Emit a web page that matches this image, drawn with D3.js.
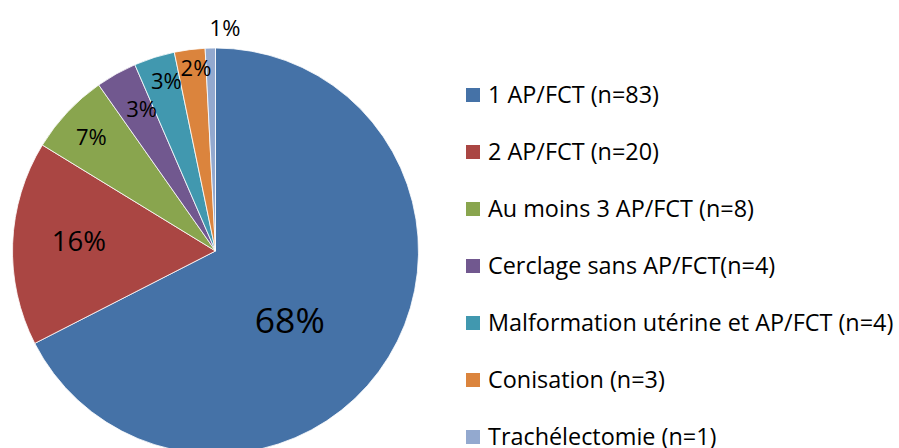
<!DOCTYPE html>
<html>
<head>
<meta charset="utf-8">
<script src="https://cdn.jsdelivr.net/npm/d3@7"></script>
<style>
    body { margin: 0; background: #fff; }
    svg text { font-family: "Open Sans", sans-serif; fill: #000; }
</style>
</head>
<body>
<div id="content"></div>
<script>
// ======= data =======
var categories = ["1 AP/FCT (n=83)", "2 AP/FCT (n=20)", "Au moins 3 AP/FCT (n=8)",
    "Cerclage sans AP/FCT(n=4)", "Malformation utérine et AP/FCT (n=4)",
    "Conisation (n=3)", "Trachélectomie (n=1)"];
var counts = [83, 20, 8, 4, 4, 3, 1];

// ======= formatting =======
var colors = ["#4572A7", "#AA4643", "#89A54E", "#71588F", "#4198AF", "#DB843D", "#93A9CF"];
var width = 899;
var height = 448;
var cx = 215.5, cy = 251, radius = 203;
// best-fit label placement: radius factor and angle nudge (deg) per slice
var labelRadius = [0.5, 0.675, 0.83, 0.79, 0.87, 0.905, 1.1];
var labelNudge = [11.5, 2, -0.6, 1.8, 1.4, 1.2, 3.9];
var labelSize = [35.5, 27.5, 22, 22, 22, 22, 22];

var total = d3.sum(counts);

// ======= percentages (largest remainder so they sum to 100) =======
function roundedShares(values) {
    var raw = values.map(function(v) { return v / total * 100; });
    var out = raw.map(Math.floor);
    var left = 100 - d3.sum(out);
    var order = d3.range(raw.length).sort(function(a, b) {
        return (raw[b] - out[b]) - (raw[a] - out[a]);
    });
    for (var k = 0; k < left; k++) out[order[k]] += 1;
    return out;
}
var shares = roundedShares(counts);

// ======= elements =======
var svgEl = d3.select("#content")
    .append("svg")
        .attr("width", width)
        .attr("height", height);

var pieG = svgEl.append("g")
    .attr("transform", "translate(" + cx + "," + cy + ")");

var pie = d3.pie().sort(null).value(function(d) { return d; });
var arcs = pie(counts);
var arc = d3.arc().innerRadius(0).outerRadius(radius);

// ======= slices =======
pieG.selectAll("path")
    .data(arcs)
    .enter()
    .append("path")
        .attr("d", arc)
        .style("fill", function(d, i) { return colors[i]; })
        .style("stroke", "#fff")
        .style("stroke-width", 0.8);

// ======= labels =======
pieG.selectAll("text.lbl")
    .data(arcs)
    .enter()
    .append("text")
        .attr("class", "lbl")
        .attr("transform", function(d, i) {
            var a = (d.startAngle + d.endAngle) / 2 + labelNudge[i] * Math.PI / 180;
            var r = radius * labelRadius[i];
            return "translate(" + (r * Math.sin(a)) + "," + (-r * Math.cos(a)) + ")";
        })
        .attr("text-anchor", "middle")
        .attr("dy", "0.36em")
        .style("font-size", function(d, i) { return labelSize[i] + "px"; })
        .text(function(d, i) { return shares[i] + "%"; });

// ======= legend =======
var legendY = d3.scalePoint()
    .domain(categories)
    .range([95, 437]);

var legend = svgEl.append("g")
    .attr("class", "legend")
    .selectAll("g")
    .data(categories)
    .enter()
    .append("g")
        .attr("transform", function(d) { return "translate(466," + legendY(d) + ")"; });

legend.append("rect")
    .attr("x", 0)
    .attr("y", -7)
    .attr("width", 14)
    .attr("height", 14)
    .style("fill", function(d, i) { return colors[i]; });

legend.append("text")
    .attr("x", 22)
    .attr("dy", "0.36em")
    .style("font-size", "23.4px")
    .text(function(d) { return d; });
</script>
</body>
</html>
